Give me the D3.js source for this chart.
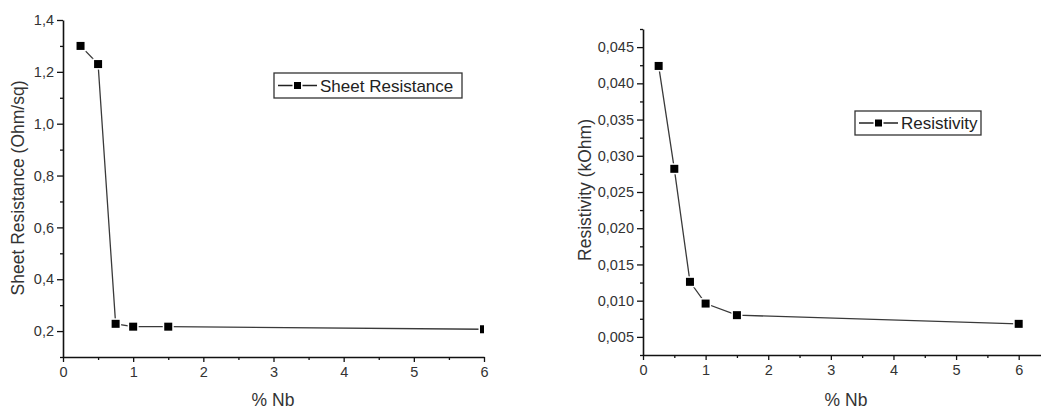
<!DOCTYPE html>
<html>
<head>
<meta charset="utf-8">
<script src="https://cdn.jsdelivr.net/npm/d3@7/dist/d3.min.js"></script>
<style>
  html, body { margin: 0; padding: 0; background: #fff; }
  svg { display: block; }
  text { font-family: "Liberation Sans", Arial, sans-serif; }
</style>
</head>
<body>
<svg id="chart" width="1041" height="410"></svg>
<script>
// ---------- data ----------
const nbPercent = [0.25, 0.5, 0.75, 1.0, 1.5, 6.0];
const sheetResistance = [1.30, 1.23, 0.228, 0.217, 0.217, 0.207];
const resistivity = [0.0424, 0.0282, 0.0126, 0.0096, 0.0080, 0.0068];
const seriesNames = ["Sheet Resistance", "Resistivity"];
const yTitles = ["Sheet Resistance (Ohm/sq)", "Resistivity (kOhm)"];
const xTitle = "% Nb";
const xTicksMajor = [0, 1, 2, 3, 4, 5, 6];
const leftYTicks = [0.2, 0.4, 0.6, 0.8, 1.0, 1.2, 1.4];
const rightYTicks = [0.005, 0.010, 0.015, 0.020, 0.025, 0.030, 0.035, 0.040, 0.045];

const locale = d3.formatLocale({decimal: ",", thousands: ".", grouping: [3], currency: ["", ""]});

const svg = d3.select("#chart");

function drawPanel(cfg) {
  const g = svg.append("g");
  const x = d3.scaleLinear().domain(cfg.xDomain).range(cfg.xRange);
  const y = d3.scaleLinear().domain(cfg.yDomain).range(cfg.yRange);
  const x0 = cfg.xRange[0], y0 = cfg.yRange[0];

  // clip
  const clipId = "clip" + cfg.id;
  svg.append("clipPath").attr("id", clipId).append("rect")
    .attr("x", cfg.xRange[0]).attr("y", cfg.yRange[1] - 10)
    .attr("width", cfg.xRange[1] - cfg.xRange[0])
    .attr("height", cfg.yRange[0] - cfg.yRange[1] + 10);

  // x axis
  const xAxis = d3.axisBottom(x).tickValues(xTicksMajor).tickSize(5).tickSizeOuter(0)
    .tickFormat(d3.format("d"));
  const gx = g.append("g").attr("transform", `translate(0,${y0})`).call(xAxis);
  const xMinor = d3.axisBottom(x).tickValues(cfg.xMinor).tickSize(3).tickFormat("");
  const gxm = g.append("g").attr("transform", `translate(0,${y0})`).call(xMinor);
  gxm.select(".domain").remove();

  // y axis
  const yAxis = d3.axisLeft(y).tickValues(cfg.yTicks).tickSize(6).tickSizeOuter(0)
    .tickFormat(locale.format(cfg.yFmt));
  const gy = g.append("g").attr("transform", `translate(${x0},0)`).call(yAxis);
  const yMinor = d3.axisLeft(y).tickValues(cfg.yMinor).tickSize(3).tickFormat("");
  const gym = g.append("g").attr("transform", `translate(${x0},0)`).call(yMinor);
  gym.select(".domain").remove();

  [gx, gy, gxm, gym].forEach(a => {
    a.selectAll(".domain").attr("stroke", "#111").attr("stroke-width", 1.6);
    a.selectAll(".tick line").attr("stroke", "#111").attr("stroke-width", 1.3);
  });
  gx.selectAll(".tick text").attr("font-size", 14.5).attr("fill", "#333").attr("dy", "0.86em");
  gy.selectAll(".tick text").attr("font-size", 14.5).attr("fill", "#333").attr("x", -9);

  // titles
  g.append("text").attr("x", cfg.xTitleX).attr("y", 406).attr("text-anchor", "middle")
    .attr("font-size", 17.5).attr("fill", "#333").text(xTitle);
  g.append("text").attr("transform", `translate(${cfg.yTitleX},${cfg.yTitleY}) rotate(-90)`)
    .attr("text-anchor", "middle").attr("font-size", 17.5).attr("fill", "#333").text(cfg.yTitle);

  // data
  const pts = nbPercent.map((v, i) => [v, cfg.values[i]]);
  const plot = g.append("g").attr("clip-path", `url(#${clipId})`);
  plot.append("path").datum(pts)
    .attr("d", d3.line().x(d => x(d[0])).y(d => y(d[1])))
    .attr("fill", "none").attr("stroke", "#3a3a3a").attr("stroke-width", 1.3);
  plot.selectAll("rect.halo").data(pts).join("rect").attr("class", "halo")
    .attr("x", d => x(d[0]) - 5.5).attr("y", d => y(d[1]) - 5.5)
    .attr("width", 11).attr("height", 11).attr("fill", "#fff");
  plot.selectAll("rect.mk").data(pts).join("rect").attr("class", "mk")
    .attr("x", d => x(d[0]) - 4).attr("y", d => y(d[1]) - 4)
    .attr("width", 8).attr("height", 8).attr("fill", "#000");

  // legend
  const L = cfg.legend;
  const lg = g.append("g");
  lg.append("rect").attr("x", L.x).attr("y", L.y).attr("width", L.w).attr("height", L.h)
    .attr("fill", "#fff").attr("stroke", "#333").attr("stroke-width", 1.3);
  const cy = L.y + L.h / 2;
  lg.append("line").attr("x1", L.x + 4).attr("x2", L.x + 43).attr("y1", cy).attr("y2", cy)
    .attr("stroke", "#222").attr("stroke-width", 1.3);
  lg.append("rect").attr("x", L.x + 23.5 - 5).attr("y", cy - 5).attr("width", 10).attr("height", 10).attr("fill", "#fff");
  lg.append("rect").attr("x", L.x + 23.5 - 3.5).attr("y", cy - 3.5).attr("width", 7).attr("height", 7).attr("fill", "#000");
  lg.append("text").attr("x", L.x + 46).attr("y", cy + 6).attr("font-size", 17).attr("fill", "#222")
    .text(cfg.name);
}

drawPanel({
  id: "L",
  xDomain: [0, 6], xRange: [63, 484],
  yDomain: [0.1, 1.4], yRange: [357, 20],
  yTicks: leftYTicks, yMinor: d3.range(0.1, 1.41, 0.2).map(v => +v.toFixed(2)),
  xMinor: [0.5, 1.5, 2.5, 3.5, 4.5, 5.5],
  yFmt: ".1f",
  values: sheetResistance,
  name: seriesNames[0],
  yTitle: yTitles[0], yTitleX: 24, yTitleY: 188,
  xTitleX: 273,
  legend: {x: 274, y: 73, w: 188, h: 25}
});

drawPanel({
  id: "R",
  xDomain: [0, 6.5], xRange: [643, 1050],
  yDomain: [0.0025, 0.0475], yRange: [355, 29],
  yTicks: rightYTicks, yMinor: d3.range(0.0025, 0.0476, 0.005).map(v => +v.toFixed(4)),
  xMinor: [0.5, 1.5, 2.5, 3.5, 4.5, 5.5, 6.5],
  yFmt: ".3f",
  values: resistivity,
  name: seriesNames[1],
  yTitle: yTitles[1], yTitleX: 591, yTitleY: 190,
  xTitleX: 846,
  legend: {x: 855, y: 111, w: 126, h: 24}
});
</script>
</body>
</html>
